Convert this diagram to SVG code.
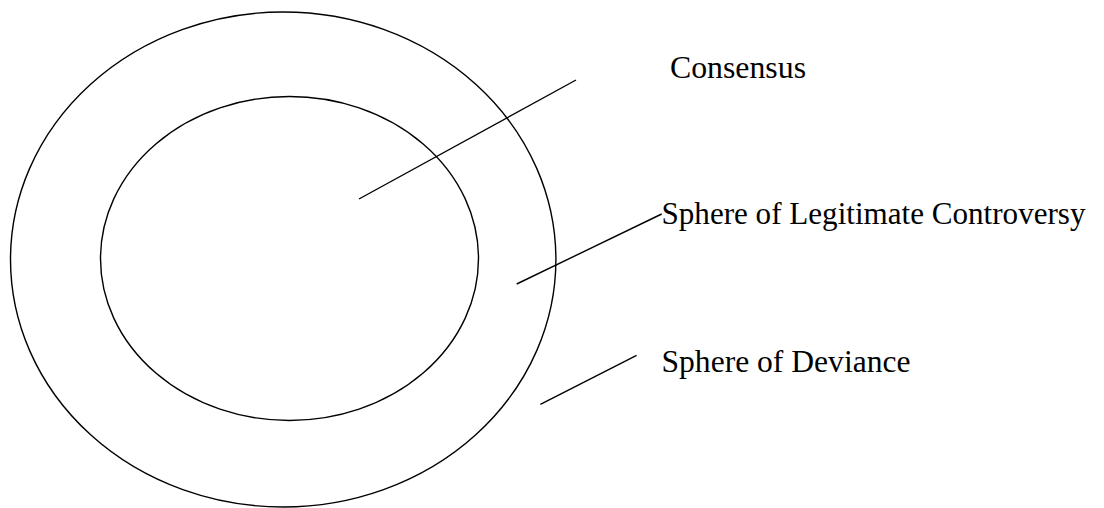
<svg xmlns="http://www.w3.org/2000/svg" width="1104" height="508" viewBox="0 0 1104 508">
<style>
.ring{fill:none;stroke:#000;stroke-width:1.4}
.lead{stroke:#000;stroke-width:1.4;fill:none}
.lbl{font-family:"Liberation Serif","Times New Roman",serif;font-size:32px;fill:#000}
</style>
<rect width="1104" height="508" fill="#fff"/>
<g id="sphere-deviance">
<ellipse class="ring" cx="283.2" cy="259.5" rx="272.7" ry="247.5"/>
</g>
<g id="sphere-legitimate">
<ellipse class="ring" cx="289.5" cy="258.5" rx="189" ry="162"/>
</g>
<g id="connectors">
<line class="lead" x1="359" y1="199" x2="576" y2="80"/>
<line class="lead" x1="516.7" y1="284" x2="661.7" y2="214"/>
<line class="lead" x1="540.4" y1="404.3" x2="636.6" y2="355.3"/>
</g>
<g id="label-consensus">
<text class="lbl" x="670" y="77.5" textLength="136" lengthAdjust="spacingAndGlyphs">Consensus</text>
</g>
<g id="label-legitimate">
<text class="lbl" x="661.5" y="224" textLength="424" lengthAdjust="spacingAndGlyphs">Sphere of Legitimate Controversy</text>
</g>
<g id="label-deviance">
<text class="lbl" x="661.5" y="372.3" textLength="249" lengthAdjust="spacingAndGlyphs">Sphere of Deviance</text>
</g>
</svg>
